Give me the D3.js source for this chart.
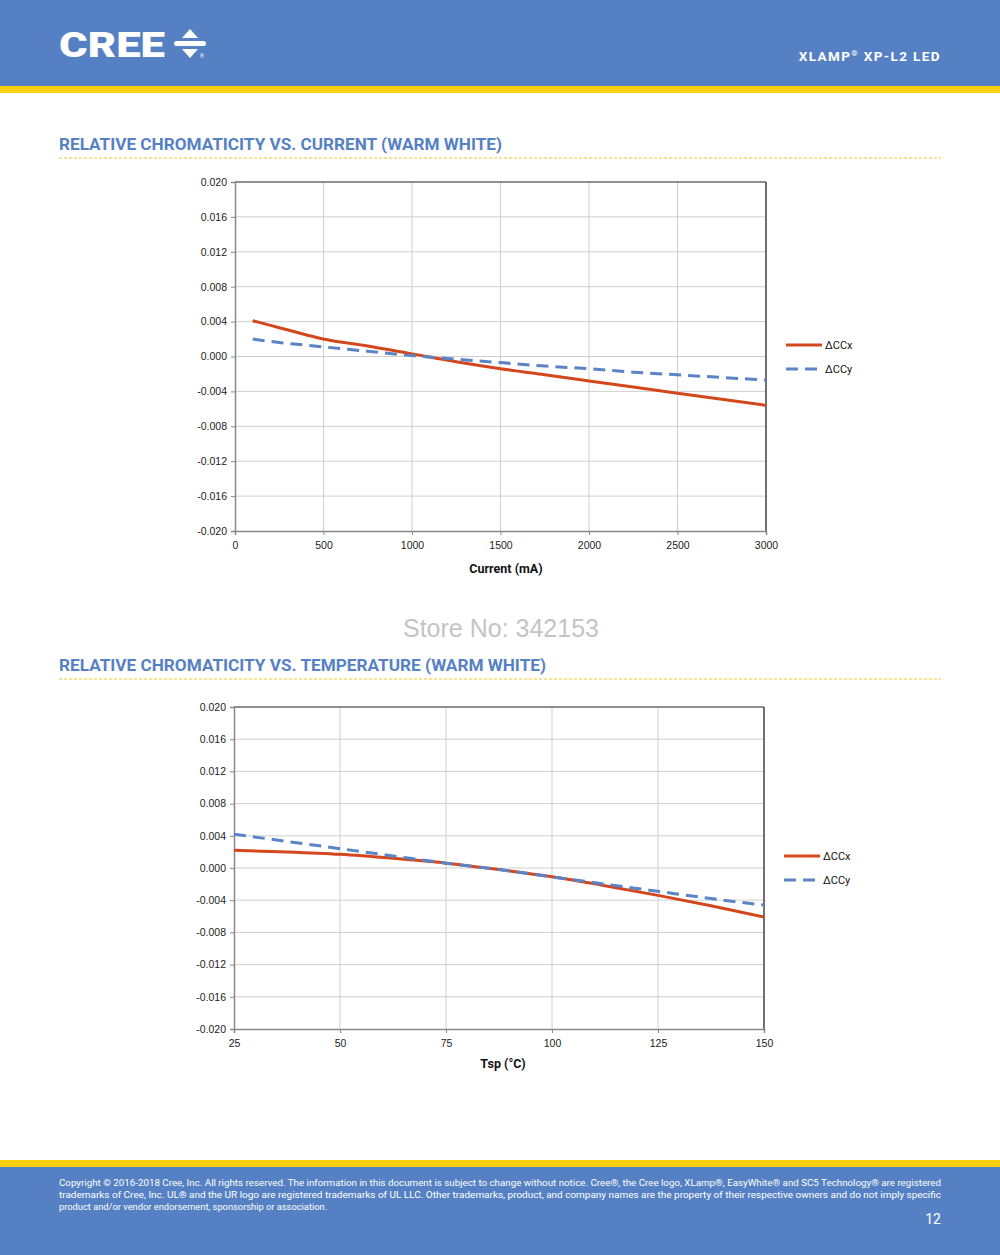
<!DOCTYPE html>
<html>
<head>
<meta charset="utf-8">
<script src="https://cdn.jsdelivr.net/npm/d3@7"></script>
<style>
  body { margin: 0; background: #fff; }
  svg { display: block; font-family: Roboto, "Liberation Sans", sans-serif; }
  .tick text { font-size: 10.5px; fill: #222; }
</style>
</head>
<body>
<svg></svg>
<script>
const width = 1000;
const height = 1255;

// Datos gráfico 1: cromaticidad vs corriente
const corriente = [100, 250, 400, 500, 750, 1000, 1250, 1500, 1750, 2000, 2250, 2500, 2750, 3000];
const ccxCorriente = [0.0041, 0.0033, 0.0025, 0.0020, 0.0012, 0.0003, -0.0006, -0.0014, -0.0021, -0.0028, -0.0035, -0.0042, -0.0049, -0.0056];
const ccyCorriente = [0.0020, 0.0016, 0.0013, 0.0011, 0.0006, 0.0001, -0.0003, -0.0007, -0.0011, -0.0014, -0.0018, -0.0021, -0.0024, -0.0027];

// Datos gráfico 2: cromaticidad vs temperatura
const temperatura = [25, 37.5, 50, 62.5, 75, 87.5, 100, 112.5, 125, 137.5, 150];
const ccxTemp = [0.0022, 0.0020, 0.0017, 0.0012, 0.0006, -0.0002, -0.0011, -0.0022, -0.0034, -0.0047, -0.0061];
const ccyTemp = [0.0042, 0.0033, 0.0024, 0.0015, 0.0006, -0.0002, -0.0011, -0.0020, -0.0029, -0.0038, -0.0046];

const yTicks = [0.020, 0.016, 0.012, 0.008, 0.004, 0.000, -0.004, -0.008, -0.012, -0.016, -0.020];
const xTicksCorriente = [0, 500, 1000, 1500, 2000, 2500, 3000];
const xTicksTemp = [25, 50, 75, 100, 125, 150];
const series = ["ΔCCx", "ΔCCy"];

const azul = "#5581c4";
const rojo = "#d4461c";
const azulLinea = "#5a84c6";

const svg = d3.select("svg").attr("width", width).attr("height", height);

// Cabecera
svg.append("rect").attr("x", 0).attr("y", 0).attr("width", width).attr("height", 87).attr("fill", azul);
svg.append("rect").attr("x", 0).attr("y", 86).attr("width", width).attr("height", 7).attr("fill", "#fdd10f");
svg.append("text").attr("x", 59).attr("y", 57).attr("fill", "#fff")
  .attr("font-size", 35).attr("font-weight", 900)
  .attr("textLength", 106).attr("lengthAdjust", "spacingAndGlyphs")
  .style("font-family", "Roboto, sans-serif").text("CREE");
// Flechas del logo
const logo = svg.append("g").attr("fill", "#fff");
logo.append("path").attr("d", "M182,38 L190,29 L198,38 Z");
logo.append("rect").attr("x", 174).attr("y", 41).attr("width", 32).attr("height", 5).attr("rx", 2.5);
logo.append("path").attr("d", "M182,49 L198,49 L190,58 Z");
svg.append("text").attr("x", 200).attr("y", 58).attr("fill", "#fff").attr("font-size", 5).text("®");
svg.append("text").attr("x", 941).attr("y", 61).attr("text-anchor", "end").attr("fill", "#fff")
  .attr("font-size", 13.5).attr("font-weight", 700).attr("letter-spacing", 1.4)
  .html('XLAMP<tspan font-size="8" dy="-5">®</tspan><tspan dy="5"> XP-L2 LED</tspan>');

// Pie
svg.append("rect").attr("x", 0).attr("y", 1160).attr("width", width).attr("height", 8).attr("fill", "#fdd10f");
svg.append("rect").attr("x", 0).attr("y", 1167).attr("width", width).attr("height", 88).attr("fill", azul);
const pie = [
  "Copyright © 2016-2018 Cree, Inc. All rights reserved. The information in this document is subject to change without notice. Cree®, the Cree logo, XLamp®, EasyWhite® and SC5 Technology® are registered",
  "trademarks of Cree, Inc. UL® and the UR logo are registered trademarks of UL LLC. Other trademarks, product, and company names are the property of their respective owners and do not imply specific",
  "product and/or vendor endorsement, sponsorship or association."
];
pie.forEach((t, i) => {
  const tx = svg.append("text").attr("x", 59).attr("y", 1186 + i * 12).attr("fill", "#fff")
    .attr("font-size", 9.3).text(t);
  if (i < 2) tx.attr("textLength", 882).attr("lengthAdjust", "spacingAndGlyphs");
});
svg.append("text").attr("x", 941).attr("y", 1224).attr("text-anchor", "end").attr("fill", "#fff")
  .attr("font-size", 14).text("12");

// Marca de agua
svg.append("text").attr("x", 501).attr("y", 637).attr("text-anchor", "middle").attr("fill", "#c4c4c4")
  .attr("font-size", 25).style("font-family", "Liberation Sans, Arial, sans-serif").text("Store No: 342153");

function titulo(texto, y, ancho) {
  svg.append("text").attr("x", 59).attr("y", y).attr("fill", "#5681c4")
    .attr("font-size", 16).attr("font-weight", 700)
    .attr("textLength", ancho).attr("lengthAdjust", "spacingAndGlyphs").text(texto);
  svg.append("line").attr("x1", 59).attr("x2", 941).attr("y1", y + 8).attr("y2", y + 8)
    .attr("stroke", "#f3c623").attr("stroke-width", 1).attr("stroke-dasharray", "3,2");
}

function grafico(cfg) {
  const x = d3.scaleLinear().domain(cfg.xDomain).range([cfg.left, cfg.right]);
  const y = d3.scaleLinear().domain([-0.020, 0.020]).range([cfg.bottom, cfg.top]);
  const g = svg.append("g");

  // Rejilla
  g.append("g").selectAll("line").data(cfg.xTicks.slice(1)).join("line")
    .attr("x1", d => x(d)).attr("x2", d => x(d)).attr("y1", cfg.top).attr("y2", cfg.bottom)
    .attr("stroke", "#cfcfcf").attr("stroke-width", 1);
  g.append("g").selectAll("line").data(yTicks.slice(1, -1)).join("line")
    .attr("x1", cfg.left).attr("x2", cfg.right).attr("y1", d => y(d)).attr("y2", d => y(d))
    .attr("stroke", "#cfcfcf").attr("stroke-width", 1);

  // Borde superior y derecho
  g.append("line").attr("x1", cfg.left).attr("x2", cfg.right).attr("y1", cfg.top).attr("y2", cfg.top)
    .attr("stroke", "#222").attr("stroke-width", 1.2);
  g.append("line").attr("x1", cfg.right).attr("x2", cfg.right).attr("y1", cfg.top).attr("y2", cfg.bottom)
    .attr("stroke", "#222").attr("stroke-width", 1.2);

  // Ejes
  const ejeY = g.append("g").attr("transform", `translate(${cfg.left},0)`)
    .call(d3.axisLeft(y).tickValues(yTicks).tickSize(4).tickPadding(4)
      .tickFormat(d => d3.format(".3f")(d).replace("−", "-")));
  ejeY.select(".domain").attr("stroke", "#888").attr("stroke-width", 1.5);
  ejeY.selectAll(".tick line").attr("stroke", "#888");

  const ejeX = g.append("g").attr("transform", `translate(0,${cfg.bottom})`)
    .call(d3.axisBottom(x).tickValues(cfg.xTicks).tickFormat(d3.format("d")).tickSize(4).tickPadding(7));
  ejeX.select(".domain").attr("stroke", "#888").attr("stroke-width", 1.5);
  ejeX.selectAll(".tick line").attr("stroke", "#888");

  g.append("text").attr("x", cfg.labelX).attr("y", cfg.bottom + cfg.labelDy).attr("text-anchor", "middle")
    .attr("font-size", 12.5).attr("font-weight", 700).attr("fill", "#111").text(cfg.xLabel);

  // Curvas
  const linea = d3.line().x(d => x(d[0])).y(d => y(d[1])).curve(d3.curveMonotoneX);
  g.append("path").datum(d3.zip(cfg.xs, cfg.ccx)).attr("d", linea)
    .attr("fill", "none").attr("stroke", rojo).attr("stroke-width", 3);
  g.append("path").datum(d3.zip(cfg.xs, cfg.ccy)).attr("d", linea)
    .attr("fill", "none").attr("stroke", azulLinea).attr("stroke-width", 3).attr("stroke-dasharray", "12,7");

  // Leyenda
  const leyenda = g.append("g").attr("transform", `translate(${cfg.right + 20},${cfg.legendY})`);
  series.forEach((s, i) => {
    const item = leyenda.append("g").attr("transform", `translate(0,${i * 24})`);
    item.append("line").attr("x1", 0).attr("x2", 36).attr("y1", 0).attr("y2", 0)
      .attr("stroke", i === 0 ? rojo : azulLinea).attr("stroke-width", 3)
      .attr("stroke-dasharray", i === 0 ? null : "12,7");
    item.append("text").attr("x", 39).attr("y", 4).attr("font-size", 11).attr("fill", "#111").text(s);
  });
}

titulo("RELATIVE CHROMATICITY VS. CURRENT (WARM WHITE)", 150, 443);
grafico({
  left: 235, right: 766, top: 182, bottom: 531,
  xDomain: [0, 3000], xTicks: xTicksCorriente,
  xs: corriente, ccx: ccxCorriente, ccy: ccyCorriente,
  xLabel: "Current (mA)", labelX: 506, labelDy: 42, legendY: 345
});

titulo("RELATIVE CHROMATICITY VS. TEMPERATURE (WARM WHITE)", 671, 487);
grafico({
  left: 234, right: 764, top: 707, bottom: 1029,
  xDomain: [25, 150], xTicks: xTicksTemp,
  xs: temperatura, ccx: ccxTemp, ccy: ccyTemp,
  xLabel: "Tsp (°C)", labelX: 503, labelDy: 39, legendY: 856
});
</script>
</body>
</html>
